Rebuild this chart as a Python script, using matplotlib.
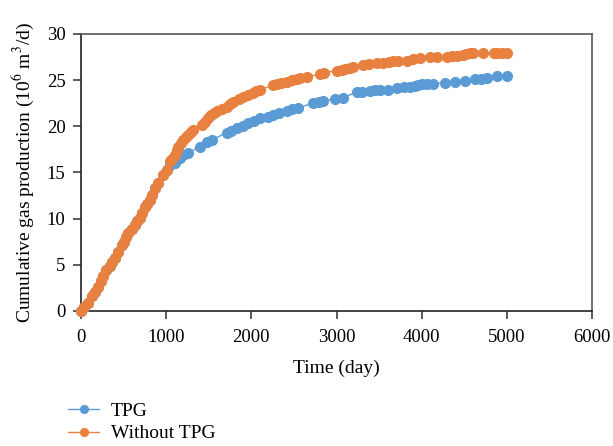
import matplotlib
matplotlib.use('Agg')
import matplotlib.pyplot as plt

# shared early part (both curves overlap until ~1000 days)
early_t = [0, 40, 78, 125, 160, 203, 230, 262, 300, 340, 370, 400, 440, 478, 500,
           530, 556, 600, 634, 660, 693, 720, 751, 780, 810, 840, 869, 900, 966, 1010]
early_q = [0, 0.4, 0.8, 1.6, 2.0, 2.6, 3.2, 3.8, 4.4, 4.9, 5.3, 5.7, 6.4, 7.1, 7.5,
           8.0, 8.4, 8.9, 9.3, 9.7, 10.1, 10.6, 11.2, 11.6, 12.0, 12.6, 13.3, 13.8, 14.7, 15.3]

tpg_t = early_t + [1050, 1104, 1162, 1200, 1260, 1397, 1480, 1534, 1710, 1760, 1828, 1900,
                   1964, 2030, 2102, 2190, 2258, 2330, 2415, 2480, 2551, 2728, 2800, 2845,
                   2982, 3080, 3237, 3300, 3393, 3450, 3511, 3608, 3706, 3790, 3863, 3920,
                   3960, 4000, 4059, 4137, 4274, 4391, 4509, 4626, 4700, 4763, 4881, 4998]
tpg_q = early_q + [15.8, 16.0, 16.6, 16.9, 17.1, 17.8, 18.3, 18.5, 19.3, 19.5, 19.8, 20.0,
                   20.3, 20.6, 20.9, 21.0, 21.2, 21.4, 21.7, 21.9, 22.0, 22.5, 22.6, 22.7,
                   23.0, 23.1, 23.7, 23.75, 23.8, 23.9, 23.9, 23.9, 24.1, 24.2, 24.3, 24.4,
                   24.5, 24.6, 24.6, 24.6, 24.7, 24.8, 24.9, 25.1, 25.1, 25.2, 25.4, 25.4]

no_tpg_t = early_t + [1045, 1070, 1104, 1130, 1143, 1175, 1202, 1230, 1261, 1290, 1319, 1417,
                      1460, 1495, 1530, 1560, 1593, 1650, 1710, 1750, 1789, 1850, 1906, 1960,
                      2023, 2060, 2102, 2258, 2300, 2350, 2415, 2480, 2532, 2571, 2650, 2806,
                      2850, 3002, 3060, 3100, 3158, 3197, 3314, 3380, 3471, 3550, 3620, 3666,
                      3720, 3823, 3900, 3980, 4100, 4176, 4293, 4350, 4411, 4480, 4520, 4567,
                      4600, 4724, 4850, 4881, 4940, 4998]
no_tpg_q = early_q + [16.2, 16.5, 16.9, 17.4, 17.8, 18.2, 18.5, 18.8, 19.1, 19.4, 19.6, 20.1,
                      20.5, 20.9, 21.2, 21.4, 21.6, 21.9, 22.1, 22.4, 22.6, 22.9, 23.2, 23.4,
                      23.6, 23.8, 23.9, 24.5, 24.6, 24.7, 24.8, 25.0, 25.1, 25.2, 25.3, 25.7,
                      25.8, 26.0, 26.1, 26.2, 26.3, 26.4, 26.6, 26.7, 26.8, 26.9, 27.0, 27.1,
                      27.1, 27.1, 27.3, 27.4, 27.5, 27.5, 27.5, 27.6, 27.6, 27.7, 27.8, 27.9,
                      27.9, 27.9, 27.9, 27.9, 27.9, 27.9]

plt.rcParams['font.family'] = ['Liberation Serif', 'DejaVu Serif']
plt.rcParams['mathtext.fontset'] = 'stix'

fig = plt.figure(figsize=(6.13, 4.46), dpi=100)
ax = fig.add_axes([0.132, 0.303, 0.834, 0.621])

blue = '#5B9BD5'
orange = '#E8803F'
ax.plot(tpg_t, tpg_q, '-o', color=blue, ms=7, lw=1, label='TPG', clip_on=False, zorder=3)
ax.plot(no_tpg_t, no_tpg_q, '-o', color=orange, ms=7, lw=1, label='Without TPG',
        clip_on=False, zorder=4)

ax.set_xlim(0, 6000)
ax.set_ylim(0, 30)
ax.set_xticks(range(0, 6001, 1000))
ax.set_yticks(range(0, 31, 5))
ax.tick_params(labelsize=13.5, color='#404040', length=6, width=1.2)
ax.tick_params(axis='x', pad=7)
ax.tick_params(axis='y', pad=5)
for s in ax.spines.values():
    s.set_color('#595959')
    s.set_linewidth(1.2)
ax.spines['left'].set_color('#222222')
ax.spines['bottom'].set_color('#222222')

ax.set_xlabel('Time (day)', fontsize=14, labelpad=10)
ax.set_ylabel('Cumulative gas production (10$^6$ m$^3$/d)', fontsize=14, labelpad=8)

fig.legend(loc='upper left', bbox_to_anchor=(0.083, 0.137), frameon=False, fontsize=14,
           handlelength=1.6, labelspacing=0.25, handletextpad=0.6, markerscale=0.8)

fig.savefig('out.png', dpi=100)
